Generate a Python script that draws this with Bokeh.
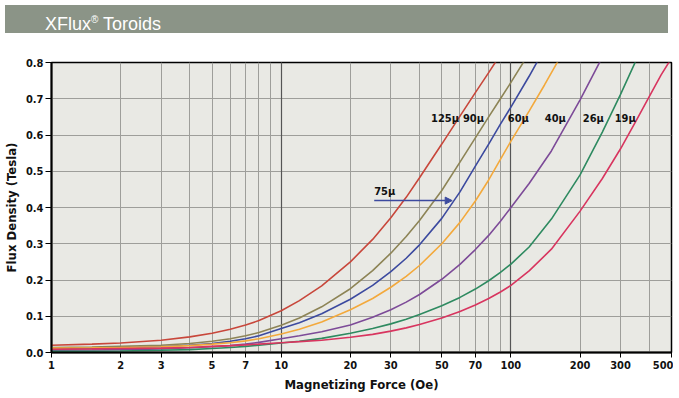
from bokeh.plotting import figure
from bokeh.models import FixedTicker, Grid, Label, Arrow, NormalHead, Div, NumeralTickFormatter
from bokeh.layouts import column
from bokeh.embed import file_html
from bokeh.resources import INLINE

# ---- data ----
x_ticks = [1, 2, 3, 5, 7, 10, 20, 30, 50, 70, 100, 200, 300, 500]
x_minor = [4, 6, 8, 9, 40, 60, 80, 90, 400]
x_decades = [10, 100]
y_ticks = [0.0, 0.1, 0.2, 0.3, 0.4, 0.5, 0.6, 0.7, 0.8]

h125 = [1, 1.5, 2, 3, 4, 5, 6, 7, 8, 10, 12, 15, 20, 25, 30, 35, 40, 50, 60, 70, 80, 90]
b125 = [0.020, 0.023, 0.026, 0.034, 0.043, 0.053, 0.064, 0.076, 0.088, 0.115, 0.143, 0.184, 0.250,
        0.312, 0.372, 0.428, 0.482, 0.575, 0.652, 0.717, 0.772, 0.822]

h90 = [1, 1.5, 2, 3, 4, 5, 6, 7, 8, 10, 12, 15, 20, 25, 30, 35, 40, 50, 60, 70, 80, 90, 100, 120]
b90 = [0.014, 0.015, 0.017, 0.020, 0.025, 0.031, 0.038, 0.046, 0.055, 0.075, 0.095, 0.126, 0.176,
       0.226, 0.274, 0.320, 0.364, 0.447, 0.525, 0.592, 0.650, 0.700, 0.745, 0.826]

h75 = [1, 1.5, 2, 3, 4, 5, 6, 7, 8, 10, 12, 15, 20, 25, 30, 35, 40, 50, 60, 70, 80, 90, 100, 120, 140]
b75 = [0.010, 0.011, 0.013, 0.016, 0.020, 0.025, 0.031, 0.038, 0.046, 0.066, 0.082, 0.107, 0.147,
       0.185, 0.223, 0.260, 0.297, 0.370, 0.443, 0.514, 0.575, 0.630, 0.677, 0.762, 0.838]

h60 = [1, 1.5, 2, 3, 4, 5, 6, 7, 8, 10, 12, 15, 20, 25, 30, 35, 40, 50, 60, 70, 80, 90, 100, 120,
       140, 160, 180]
b60 = [0.012, 0.013, 0.014, 0.016, 0.019, 0.023, 0.027, 0.032, 0.038, 0.051, 0.064, 0.084, 0.118,
       0.149, 0.180, 0.210, 0.240, 0.300, 0.359, 0.418, 0.476, 0.533, 0.583, 0.666, 0.738, 0.803, 0.860]

h40 = [1, 1.5, 2, 3, 4, 5, 6, 7, 8, 10, 12, 15, 20, 25, 30, 35, 40, 50, 60, 70, 80, 90, 100, 120,
       150, 200, 250]
b40 = [0.006, 0.007, 0.008, 0.010, 0.013, 0.016, 0.019, 0.023, 0.028, 0.038, 0.046, 0.057, 0.076,
       0.097, 0.118, 0.139, 0.160, 0.202, 0.243, 0.284, 0.323, 0.362, 0.400, 0.466, 0.556, 0.697, 0.815]

h26 = [1, 1.5, 2, 3, 4, 5, 6, 7, 8, 10, 12, 15, 20, 25, 30, 35, 40, 50, 60, 70, 80, 90, 100, 120,
       150, 200, 250, 300, 350, 370]
b26 = [0.003, 0.0035, 0.004, 0.006, 0.008, 0.011, 0.014, 0.017, 0.020, 0.026, 0.031, 0.039, 0.053,
       0.066, 0.079, 0.092, 0.105, 0.129, 0.152, 0.175, 0.198, 0.221, 0.244, 0.291, 0.368, 0.490,
       0.608, 0.712, 0.805, 0.840]

h19 = [1, 1.5, 2, 3, 4, 5, 6, 7, 8, 10, 12, 15, 20, 25, 30, 35, 40, 50, 60, 70, 80, 90, 100, 120,
       150, 200, 250, 300, 350, 400, 450, 500]
b19 = [0.009, 0.010, 0.011, 0.012, 0.014, 0.017, 0.019, 0.021, 0.023, 0.027, 0.030, 0.034, 0.042,
       0.050, 0.059, 0.068, 0.077, 0.095, 0.113, 0.131, 0.149, 0.167, 0.185, 0.225, 0.285, 0.390,
       0.480, 0.562, 0.638, 0.706, 0.765, 0.812]

series_names = ["125μ", "90μ", "75μ", "60μ", "40μ", "26μ", "19μ"]
series_h = [h125, h90, h75, h60, h40, h26, h19]
series_b = [b125, b90, b75, b60, b40, b26, b19]
series_colors = ["#c8473b", "#8d8456", "#3c4a9f", "#f3a93c", "#7d4b98", "#2e8a60", "#d8355f"]

# label anchors (data coords, right edge of each label)
label_text = ["125μ", "90μ", "60μ", "40μ", "26μ", "19μ"]
label_x = [59.4, 76.3, 119.7, 173.5, 253.8, 349.4]
label_y = 0.645
label75_x, label75_y = 25.4, 0.444
arrow_x0, arrow_x1, arrow_y = 25.4, 55.5, 0.419

FONT = "'DejaVu Sans Condensed', 'Liberation Sans Narrow', sans-serif"
BLUE = "#3c4a9f"

p = figure(x_axis_type="log", x_range=(1, 500), y_range=(0, 0.8),
           frame_width=620, frame_height=290,
           output_backend="svg", toolbar_location=None,
           min_border_top=24, min_border_right=2, min_border_left=0, min_border_bottom=0,
           background_fill_color="#e9e9e4", border_fill_color="white")

p.outline_line_color = "black"
p.outline_line_width = 1.5

# axes
p.xaxis.ticker = FixedTicker(ticks=x_ticks, minor_ticks=x_minor)
p.xaxis.formatter = NumeralTickFormatter(format="0")
p.yaxis.ticker = FixedTicker(ticks=y_ticks)
p.yaxis.formatter = NumeralTickFormatter(format="0.0")
for ax in (p.xaxis[0], p.yaxis[0]):
    ax.axis_line_color = "black"
    ax.axis_line_width = 2
    ax.major_tick_line_color = "black"
    ax.major_tick_in = 0
    ax.minor_tick_out = 0
    ax.minor_tick_in = 0
    ax.major_label_text_font = FONT
    ax.major_label_text_font_style = "bold"
    ax.major_label_text_font_size = "11px"
    ax.major_label_text_color = "#111111"
    ax.axis_label_text_font = FONT
    ax.axis_label_text_font_style = "bold"
    ax.axis_label_text_font_size = "13px"
    ax.axis_label_text_color = "#111111"
p.xaxis.major_tick_out = 5
p.yaxis.major_tick_out = 6
p.xaxis.major_label_standoff = 3
p.yaxis.major_label_standoff = 2
p.xaxis.axis_label = "Magnetizing Force (Oe)"
p.yaxis.axis_label = "Flux Density (Tesla)"
p.xaxis.axis_label_standoff = 5
p.yaxis.axis_label_standoff = 4

# grids
p.xgrid.ticker = FixedTicker(ticks=x_ticks, minor_ticks=x_minor)
p.xgrid.grid_line_color = "#9e9e9a"
p.xgrid.minor_grid_line_color = "#9e9e9a"
p.ygrid.ticker = FixedTicker(ticks=y_ticks)
p.ygrid.grid_line_color = "#9e9e9a"
dec_grid = Grid(dimension=0, ticker=FixedTicker(ticks=x_decades), grid_line_color="#555555",
                grid_line_width=1.2)
p.add_layout(dec_grid)

# curves
for name, hh, bb, col in zip(series_names, series_h, series_b, series_colors):
    p.line(hh, bb, line_color=col, line_width=1.6)

# labels
for t, lx in zip(label_text, label_x):
    p.add_layout(Label(x=lx, y=label_y, text=t, text_align="right", text_baseline="middle",
                       text_font=FONT, text_font_style="bold", text_font_size="11px",
                       text_color="#111111"))
p.add_layout(Label(x=label75_x, y=label75_y, text="75μ", text_align="left", text_baseline="middle",
                   text_font=FONT, text_font_style="bold", text_font_size="11px", text_color="#111111"))
p.add_layout(Arrow(end=NormalHead(size=7, fill_color=BLUE, line_color=BLUE),
                   x_start=arrow_x0, y_start=arrow_y, x_end=arrow_x1, y_end=arrow_y,
                   line_color=BLUE, line_width=1.5))

banner = Div(text="XFlux<sup style='font-size:10px'>®</sup> Toroids", width=663, height=28,
             styles={"background-color": "#8b9487", "color": "white",
                     "font-family": "'Liberation Sans', Arial, sans-serif", "font-size": "18px",
                     "padding-left": "40px", "line-height": "30px", "box-sizing": "border-box"})

layout = column(banner, p, spacing=0)
open("out.html", "w").write(file_html(layout, INLINE))
